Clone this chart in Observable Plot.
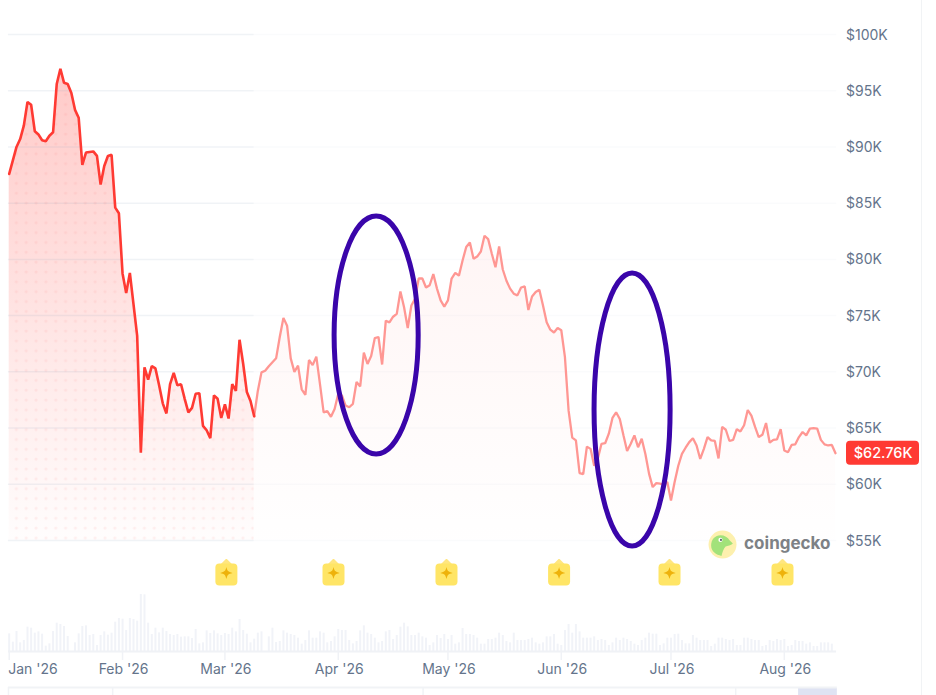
<!DOCTYPE html>
<html>
<head>
<meta charset="utf-8">
<script src="https://cdn.jsdelivr.net/npm/d3@7"></script>
<script src="https://cdn.jsdelivr.net/npm/@observablehq/plot@0.6"></script>
<style>
html,body{margin:0;padding:0;background:#fff;overflow:hidden}
#chart{position:relative;width:936px;height:695px}
#chart svg{display:block;background:transparent;overflow:visible}
#edge{position:absolute;left:921px;top:0;width:1px;height:695px;background:#f1f3f5}
</style>
</head>
<body>
<div id="chart"><div id="edge"></div></div>
<script>
// Daily price in $K, one value per day from 1 Jan 2026
const priceK = [87.6,88.8,90.0,90.7,91.9,94.0,93.75,91.4,91.1,90.6,90.5,91.0,91.3,95.6,96.95,95.7,95.6,94.8,93.3,92.6,
88.4,89.5,89.55,89.6,89.2,86.66,88.3,89.2,89.3,84.6,84.1,78.75,77.0,78.8,76.0,73.2,62.8,70.4,69.3,70.5,
70.3,68.8,67.2,66.3,68.9,69.9,68.8,68.9,67.6,66.4,66.8,68.05,68.1,65.2,64.8,64.1,67.9,67.6,65.9,67.1,
65.85,68.9,68.3,72.85,70.7,68.2,67.4,66.05,68.3,69.95,70.1,70.5,70.85,71.2,73.1,74.8,74.1,71.2,70.0,70.55,
68.45,67.95,71.05,70.6,71.35,68.9,66.4,66.5,66.0,66.7,68.05,67.9,67.0,66.85,67.15,69.1,68.7,71.7,70.7,71.4,
73.0,73.1,70.65,74.55,74.4,74.9,75.15,77.15,75.75,73.9,75.9,76.5,78.3,78.3,77.5,77.7,78.7,77.4,76.35,75.8,
76.35,78.3,78.8,78.55,79.9,81.1,81.5,80.05,80.25,80.7,82.1,81.8,80.5,79.3,81.15,79.1,78.1,77.4,76.95,76.8,
77.5,77.6,75.5,76.7,77.1,77.3,75.9,74.4,73.75,73.5,73.9,73.7,71.3,66.55,64.15,63.9,61.0,60.9,63.35,63.15,
61.65,62.3,63.6,63.65,64.5,65.9,66.4,65.8,64.35,62.95,63.6,64.35,63.3,64.05,62.7,60.95,59.75,60.1,60.05,59.95,
60.2,58.55,60.2,61.65,62.7,63.25,63.75,64.1,63.45,62.25,63.15,64.2,63.9,63.85,62.3,65.1,64.85,63.85,63.95,64.9,
64.7,65.25,66.6,66.1,65.1,64.2,64.4,65.45,63.7,63.95,64.0,64.9,63.0,62.85,63.5,63.55,64.2,64.65,64.35,64.95,
65.0,64.95,63.95,63.55,63.45,63.5,62.76];
// Daily volume, relative units
const volume = [53,28,60,26,33,73,70,55,59,52,16,23,60,85,81,75,45,0,26,53,75,77,48,51,18,48,59,49,55,88,99,97,63,99,96,91,171,170,85,51,70,56,70,60,51,48,51,43,44,44,39,66,23,26,62,54,62,53,
48,54,51,70,59,96,63,52,26,37,55,59,0,44,70,27,30,62,55,51,48,40,22,33,62,40,40,59,55,26,30,44,66,63,63,33,23,30,62,77,55,51,40,26,30,59,63,36,48,73,85,74,48,48,55,44,40,18,26,
48,39,51,36,48,22,26,69,51,51,48,40,22,22,36,36,40,55,48,30,26,55,33,33,33,36,40,26,22,26,44,44,51,22,18,63,81,55,81,59,40,40,40,44,33,36,33,18,26,40,33,40,36,30,
22,18,33,40,55,52,52,18,23,40,40,51,52,33,23,23,48,40,33,33,33,15,22,40,40,36,33,36,18,18,40,40,36,33,33,15,18,33,30,36,33,36,15,18,33,30,30,22,26,15,15,26,26,26,22];
const yTicks = [55,60,65,70,75,80,85,90,95,100];
const monthNames = ["Jan '26","Feb '26","Mar '26","Apr '26","May '26","Jun '26","Jul '26","Aug '26"];
const monthDays = [0,31,59,90,120,151,181,212];
const badgeDays = [59.4,88.7,119.6,150.4,180.6,211.5];
const splitDay = 67;
const lastLabel = "$62.76K";
const ellipses = [
  {day:100.5, price:73.23, rDay:11.5, rPrice:10.58},
  {day:170.5, price:66.6, rDay:10.4, rPrice:12.14}
];
const navDividers = [-0.2,28.3,113.2,198.7];
const navHandle = [215.9,226.5];

const start = Date.UTC(2026,0,1);
const date = d => new Date(start + d*864e5);
const points = priceK.map((p,i)=>({date:date(i),price:p}));
const left = points.slice(0,splitDay+1), right = points.slice(splitDay);
const xDomain = [date(0),date(226)];
const font = "Inter, 'Noto Sans', sans-serif";
const ink = "#64748b", gridC = "#8aa0b8", barC = "#f1f3f8";

const svgUri = s => "data:image/svg+xml," + encodeURIComponent(s);
const badge = svgUri(`<svg xmlns="http://www.w3.org/2000/svg" viewBox="0 0 24 28"><path d="M12 0l6 6H6z" fill="#ffe680"/><rect x="1" y="5" width="22" height="22" rx="4" fill="#ffe566"/><path d="M12 9.5c.9 3.5 1.3 3.9 5.2 4.9-3.9 1-4.3 1.4-5.2 5.2-.9-3.8-1.3-4.2-5.2-5.2 3.9-1 4.3-1.4 5.2-4.9z" transform="translate(-2.4 -2.9) scale(1.2)" fill="#eeb20b"/></svg>`);
const logo = svgUri(`<svg xmlns="http://www.w3.org/2000/svg" viewBox="0 0 28 28"><circle cx="14" cy="14" r="13.5" fill="#fdf0ae"/><path d="M3 15C3 9 7 5 12 5c4 0 7 2 9 5l3 3c-2 2-5 2-7 3-2 2-3 5-4 9-5-1-10-4-10-10z" fill="#a2e27a"/><circle cx="12" cy="9.5" r="2" fill="#fff"/><circle cx="12.5" cy="9.5" r="1" fill="#58606b"/></svg>`);

const defs = (index,{y}) => {
  const g = d3.create("svg:defs");
  g.html(`<linearGradient id="areaFade" gradientUnits="userSpaceOnUse" x1="0" x2="0" y1="${y(97)}" y2="${y(55)}">
    <stop offset="0" stop-color="#ff3a33" stop-opacity=".27"/>
    <stop offset=".55" stop-color="#ff3a33" stop-opacity=".13"/>
    <stop offset="1" stop-color="#ff3a33" stop-opacity=".01"/></linearGradient>
    <pattern id="dots" patternUnits="userSpaceOnUse" x="2.5" y="2" width="9.85" height="9.85">
    <circle cx="4" cy="4" r="1.6" fill="#ff3a33" fill-opacity=".07"/></pattern>`);
  return g.node();
};
const ovals = (index,{x,y}) => {
  const g = d3.create("svg:g");
  g.selectAll("ellipse").data(ellipses).join("ellipse")
    .attr("cx",d=>x(date(d.day))).attr("cy",d=>y(d.price))
    .attr("rx",d=>x(date(d.rDay))-x(date(0))).attr("ry",d=>y(d.price-d.rPrice)-y(d.price))
    .attr("fill","none").attr("stroke","#3a05aa").attr("stroke-width",5);
  return g.node();
};

const main = Plot.plot({
  width:936,height:560,marginTop:34,marginBottom:20,marginLeft:8.7,marginRight:101,
  style:{fontFamily:font,fontSize:"14px",background:"transparent"},
  x:{type:"utc",domain:xDomain,axis:null},
  y:{domain:[55,100]},
  marks:[
    defs,
    Plot.areaY(left,{x:"date",y1:55,y2:"price",fill:"url(#areaFade)"}),
    Plot.areaY(right,{x:"date",y1:55,y2:"price",fill:"url(#areaFade)",fillOpacity:.28}),
    Plot.areaY(left,{x:"date",y1:55,y2:"price",fill:"url(#dots)"}),
    Plot.ruleY(yTicks,{x1:date(-0.2),x2:date(splitDay),stroke:gridC,strokeOpacity:.13,strokeWidth:1.5}),
    Plot.ruleY(yTicks,{x1:date(splitDay),x2:date(226.3),stroke:gridC,strokeOpacity:.045,strokeWidth:1.5}),
    Plot.line(right,{x:"date",y:"price",stroke:"#ff9793",strokeWidth:2.3,strokeLinejoin:"miter"}),
    Plot.line(left,{x:"date",y:"price",stroke:"#ff3a33",strokeWidth:2.6,strokeLinejoin:"miter"}),
    ovals,
    Plot.axisY({anchor:"right",ticks:yTicks,tickSize:0,tickPadding:10.5,label:null,color:ink,fontVariant:"normal",dy:0.6,tickFormat:d=>`$${d}K`}),
    Plot.rect([points[points.length-1]],{x1:"date",x2:"date",y1:"price",y2:"price",fill:"#ff3a33",rx:4,insetLeft:11,insetRight:-84,insetTop:-12,insetBottom:-12}),
    Plot.text([lastLabel],{x:()=>date(226),y:()=>priceK[priceK.length-1],text:d=>d,dx:47.5,fill:"#fff",fontWeight:500,fontSize:14.5}),
    Plot.image([195.1],{x:date,y:()=>54.64,src:logo,width:29,height:29}),
    Plot.text(["coingecko"],{x:()=>date(201),y:()=>54.72,text:d=>d,textAnchor:"start",fill:"#7d8185",fontSize:17,fontWeight:700})
  ]
});

const lower = Plot.plot({
  width:936,height:135,marginTop:0,marginBottom:44,marginLeft:8.7,marginRight:101,
  style:{fontFamily:font,fontSize:"14px",background:"transparent"},
  x:{type:"utc",domain:xDomain,axis:null},
  y:{domain:[0,273],axis:null},
  marks:[
    Plot.image(badgeDays,{x:date,y:()=>237,src:badge,width:24,height:28}),
    Plot.ruleX(volume,{x:(d,i)=>date(i),y1:0,y2:d=>d,stroke:barC,strokeWidth:2}),
    Plot.ruleY([0],{x1:date(-0.2),x2:date(226.3),stroke:"#f0f2f6",strokeWidth:2}),
    Plot.ruleX(monthDays,{x:date,y1:0,y2:-27,stroke:"#f0f2f6",strokeWidth:1.5}),
    Plot.text(monthNames.slice(0,1),{x:()=>date(monthDays[0]),y:()=>-54,text:d=>d,textAnchor:"start",fill:ink,dx:-1}),
    Plot.text(monthNames.slice(1),{x:(d,i)=>date(monthDays[i+1]),y:()=>-54,text:d=>d,fill:ink,dx:1}),
    Plot.rect([navHandle],{x1:d=>date(d[0]),x2:d=>date(d[1]),y1:-111,y2:-135,fill:"#dfe3f3"}),
    Plot.ruleY([-108],{x1:date(-0.2),x2:date(226.5),stroke:"#f1f3f6",strokeWidth:2}),
    Plot.ruleX(navDividers,{x:date,y1:-108,y2:-135,stroke:"#f1f3f6",strokeWidth:1.5})
  ]
});
const box = document.getElementById("chart");
box.append(main, lower);
</script>
</body>
</html>
